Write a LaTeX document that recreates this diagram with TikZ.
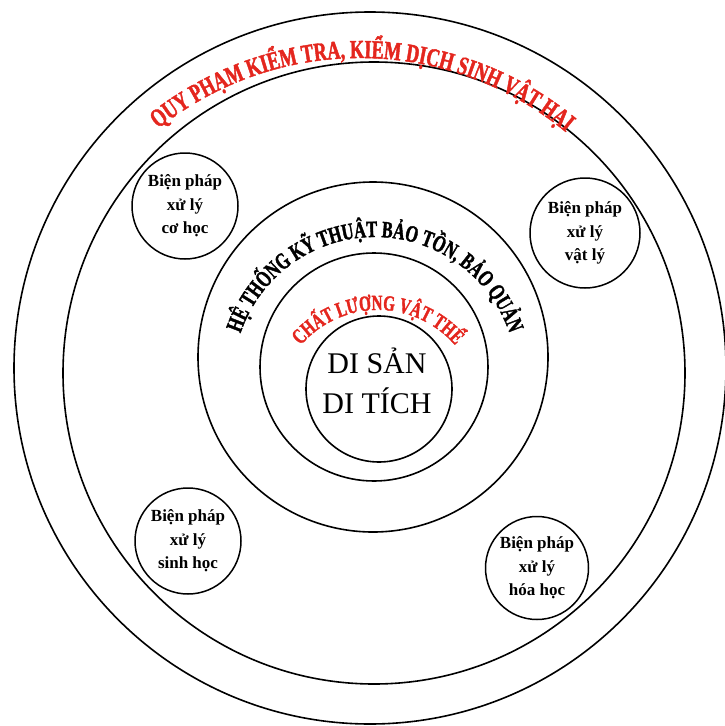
\documentclass[tikz,border=0pt]{standalone}
\usepackage{fontspec}
\setmainfont{Liberation Serif}
\newfontfamily\archfont[FakeStretch=0.7,FakeBold=1.6]{Liberation Serif Bold}
\usetikzlibrary{decorations.text}
\definecolor{qred}{RGB}{228,38,30}

\begin{document}
\begin{tikzpicture}[
    x=1pt, y=-1pt,
    ring/.style={draw, line width=1.6pt},
    bubble/.style={draw, circle, line width=1.5pt, minimum size=106pt, inner sep=0pt,
        align=center, font=\fontsize{17}{23.5}\selectfont\bfseries},
    core/.style={align=center, font=\fontsize{30}{40}\selectfont},
    arch/.style={decorate, decoration={text along path, text align=center, text={#1}}}
]
\useasboundingbox (0,0) rectangle (724,726);

% Ring centres
\coordinate (cOuter) at (370,368);
\coordinate (cRule) at (374,373);
\coordinate (cTech) at (373,357);
\coordinate (cQual) at (374,367);
\coordinate (cCore) at (379,389);

% Rings
\draw[ring] (cOuter) circle[radius=356];
\draw[ring] (cRule) circle[radius=311];
\draw[ring] (cTech) circle[radius=175];
\draw[ring] (cQual) circle[radius=114];
\draw[ring] (cCore) circle[radius=73];

% Arched labels
\coordinate (aRule) at (360,381);
\coordinate (aTech) at (375,379);
\coordinate (aQual) at (378,412);
\path[arch={|\archfont\fontsize{26}{26}\selectfont\color{qred}|QUY PHẠM KIỂM TRA, KIỂM DỊCH SINH VẬT HẠI}]
    (aRule) ++(-139.5:323) arc[start angle=-139.5, end angle=-39.5, radius=323];
\path[arch={|\archfont\fontsize{23.3}{23.3}\selectfont|HỆ THỐNG KỸ THUẬT BẢO TỒN, BẢO QUẢN}]
    (aTech) ++(-178:142) arc[start angle=-178, end angle=-2, radius=142];
\path[arch={|\archfont\fontsize{21.6}{21.6}\selectfont\color{qred}|CHẤT LƯỢNG VẬT THỂ}]
    (aQual) ++(-150:102) arc[start angle=-150, end angle=-30, radius=102];

% Centre
\node[core] (heritage) at (377,381) {DI SẢN\\DI TÍCH};

% Treatment measures
\node[bubble] (coHoc) at (185,206) {Biện pháp\\xử lý\\cơ học};
\node[bubble, minimum size=110pt] (vatLy) at (585,233) {Biện pháp\\xử lý\\vật lý};
\node[bubble] (sinhHoc) at (188,541) {Biện pháp\\xử lý\\sinh học};
\node[bubble, minimum size=103pt] (hoaHoc) at (537,568) {Biện pháp\\xử lý\\hóa học};

\end{tikzpicture}
\end{document}
